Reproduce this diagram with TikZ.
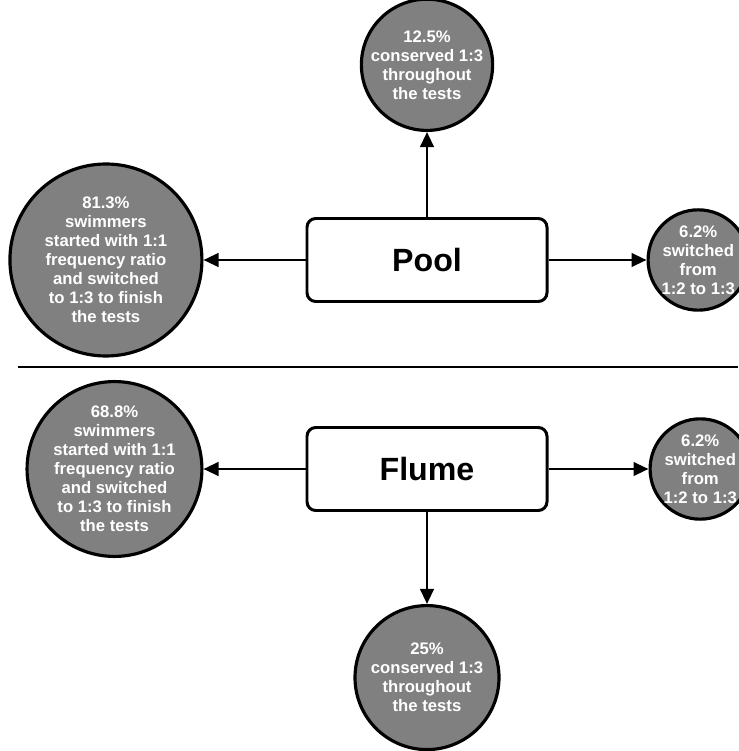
\documentclass[tikz,border=0pt]{standalone}
\usepackage{fontspec}
\setmainfont{Liberation Sans}
\usepackage{tikz}
\usetikzlibrary{arrows.meta, positioning}
\definecolor{mygray}{RGB}{128,128,128}
\definecolor{mydark}{RGB}{0,0,0}
\tikzset{
  site/.style={rectangle, draw=mydark, fill=white, minimum width=4.8cm,
    minimum height=1.66cm, rounded corners=5pt, line width=1.7pt,
    font=\fontsize{18.3}{20}\selectfont\bfseries},
  share/.style={circle, draw=mydark, fill=mygray, line width=1.8pt, inner sep=0pt,
    align=center, text=white, font=\fontsize{9.5}{10.8}\selectfont\bfseries},
  arrow/.style={-{Triangle[length=0.3cm, width=0.27cm]}, line width=1.5pt, color=mydark},
  divider/.style={line width=0.8pt, color=mydark}
}

\begin{document}
\begin{tikzpicture}
\useasboundingbox (0,0) rectangle (14.76,-15.02);

% Pool
\node[site] (pool) at (8.54,-5.2) {Pool};
\node[share, minimum size=3.84cm, left=2.04cm of pool] (poolA)
  {81.3\%\\swimmers\\started with 1:1\\frequency ratio\\and switched\\to 1:3 to finish\\the tests};
\node[share, minimum size=2.44cm, above=1.7cm of pool] (poolB)
  {12.5\%\\conserved 1:3\\throughout\\the tests};
\node[share, minimum size=1.92cm, right=1.96cm of pool] (poolC)
  {6.2\%\\switched\\from\\1:2 to 1:3};
\draw[arrow] (pool) -- (poolA);
\draw[arrow] (pool) -- (poolB);
\draw[arrow] (pool) -- (poolC);

% divider
\coordinate (divL) at (0.36,-7.34);
\coordinate (divR) at (14.76,-7.34);
\draw[divider] (divL) -- (divR);

% Flume
\node[site] (flume) at (8.54,-9.38) {Flume};
\node[share, minimum size=3.48cm, left=2.04cm of flume] (flumeA)
  {68.8\%\\swimmers\\started with 1:1\\frequency ratio\\and switched\\to 1:3 to finish\\the tests};
\node[share, minimum size=1.96cm, right=2cm of flume] (flumeC)
  {6.2\%\\switched\\from\\1:2 to 1:3};
\node[share, minimum size=2.88cm, below=1.84cm of flume] (flumeB)
  {25\%\\conserved 1:3\\throughout\\the tests};
\draw[arrow] (flume) -- (flumeA);
\draw[arrow] (flume) -- (flumeC);
\draw[arrow] (flume) -- (flumeB);
\end{tikzpicture}
\end{document}
